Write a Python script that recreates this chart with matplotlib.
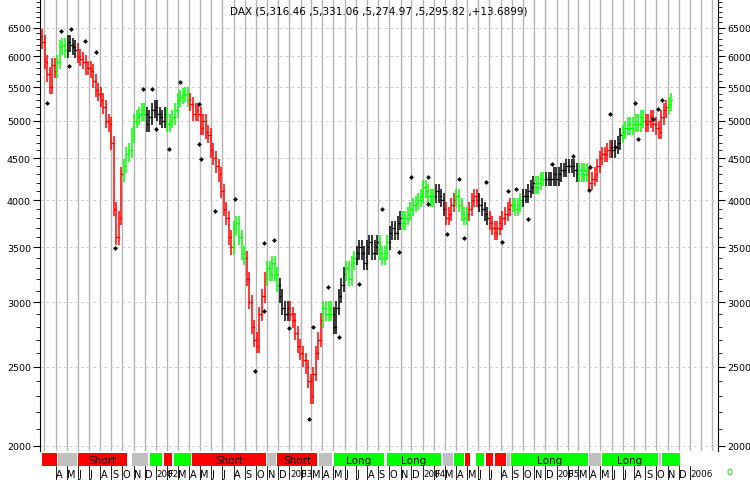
import matplotlib
matplotlib.use("Agg")
import matplotlib.pyplot as plt
import matplotlib.dates as mdates
from matplotlib.ticker import FixedLocator, NullFormatter
import datetime as dt
import numpy as np

closes = [6250,
 5900,5700,5500,5850, 5750,5900,6150,6200, 6100,6250,6200,6150,6100, 6000,5950,5900,5800,
 5800,5750,5600,5450, 5400,5300,5200,5000,4950, 4700,3900,3600,3800, 4300,4400,4550,4600,
 4800,5000,5050,5100,5150, 5100,4950,5050,5150,
 5200,5100,5050,5000,5100, 4950,5000,5050,5150, 5300,5350,5380,5400, 5300,5250,5100,5150,
 5100,4900,5000,4850,4800, 4600,4500,4400,4300, 4100,3900,3800,3600, 3500,3700,3750,3600,3450,
 3400,3200,3000,2800, 2700,2650,2900,3050, 3200,3300,3250,3350,3250, 3150,3050,2950,2900,
 2950,2900,2850,2750, 2650,2600,2550,2500, 2400,2300,2450,2600, 2700,2850,2950,2900,
 2950,2900,2800,2950,3050, 3150,3250,3300,3200, 3350,3400,3450,3500, 3450,3350,3500,3550,3450,
 3500,3550,3450,3400, 3450,3550,3650,3700,3650, 3750,3800,3750,3800, 3850,3900,3950,3970,
 4000,4050,4150,4100,4050, 4000,4050,4100,4050, 4000,3900,3800,3850, 3950,4000,4050,3950,
 3850,3800,3850,3900, 4000,4050,4000,3950, 3900,3850,3800,3750,3700, 3650,3700,3750,3800,
 3850,3900,3950,3950, 3900,3950,4000,4050,4050, 4100,4150,4200,4150, 4200,4250,4250,4250,4250,
 4250,4300,4250,4300, 4350,4350,4400,4400, 4400,4350,4300,4350,4300, 4350,4300,4200,4250,
 4300,4400,4500,4550, 4550,4600,4650,4600,4650, 4700,4800,4850,4900, 4950,4900,4950,5000,
 4950,5050,5000,4950,5000, 5050,4950,4900,4850, 5050,5150,5200,5250,5300]
first_open = 6350

# bar colour by month (R red, G green, K black)
month_colors = {
 (2001,2):'R',(2001,3):'R',(2001,4):'G',(2001,5):'K',(2001,6):'R',(2001,7):'R',(2001,8):'R',(2001,9):'R',
 (2001,10):'G',(2001,11):'G',(2001,12):'K',
 (2002,1):'K',(2002,2):'G',(2002,3):'G',(2002,4):'R',(2002,5):'R',(2002,6):'R',(2002,7):'R',(2002,8):'G',
 (2002,9):'R',(2002,10):'R',(2002,11):'G',(2002,12):'K',
 (2003,1):'R',(2003,2):'R',(2003,3):'R',(2003,4):'G',(2003,5):'K',(2003,6):'G',(2003,7):'K',(2003,8):'K',
 (2003,9):'G',(2003,10):'K',(2003,11):'G',(2003,12):'G',
 (2004,1):'G',(2004,2):'K',(2004,3):'R',(2004,4):'G',(2004,5):'R',(2004,6):'K',(2004,7):'R',(2004,8):'R',
 (2004,9):'G',(2004,10):'K',(2004,11):'G',(2004,12):'K',
 (2005,1):'K',(2005,2):'K',(2005,3):'G',(2005,4):'R',(2005,5):'R',(2005,6):'K',(2005,7):'G',(2005,8):'G',
 (2005,9):'R',(2005,10):'R',(2005,11):'G',(2005,12):'G'}
cmap = {'R':'#ff0000','G':'#00ff00','K':'#000000'}

dot_years = [2001.18,2001.29,2001.35,2001.36,2001.47,2001.55,2001.69,2001.90,2001.97,2002.00,2002.10,2002.18,
 2002.32,2002.32,2002.34,2002.44,2002.59,2002.74,2002.81,2002.88,2002.81,2003.00,2003.15,2003.18,2003.29,2003.37,
 2003.52,2003.69,2003.82,2003.91,2004.04,2004.04,2004.18,2004.27,2004.31,2004.47,2004.59,2004.64,2004.70,2004.79,
 2004.97,2005.12,2005.24,2005.25,2005.40,2005.44,2005.59,2005.61,2005.72,2005.76,2005.79]
dot_prices = [5260,6450,5840,6470,6270,6070,3490,5470,5470,4890,4620,5580,
 5250,4690,4490,3880,4010,2470,3540,3570,2930,2790,2160,2800,3130,2720,
 3160,3900,3460,4270,4270,3960,3640,4250,3590,4210,3550,4100,4130,3790,
 4430,4530,4110,4390,5100,4650,5260,4750,5030,5170,5300]

strip = [(2001.146,2001.257,'r',''),(2001.265,2001.407,'g',''),(2001.414,2001.780,'r','Short'),
 (2001.817,2001.937,'g',''),(2001.951,2002.041,'G',''),(2002.063,2002.123,'r',''),(2002.138,2002.265,'G',''),
 (2002.272,2002.825,'r','Short'),(2002.832,2002.899,'g',''),(2002.907,2003.205,'r','Short'),(2003.22,2003.317,'g',''),
 (2003.332,2003.705,'G','Long'),(2003.728,2004.138,'G','Long'),(2004.153,2004.228,'g',''),(2004.235,2004.31,'G',''),
 (2004.317,2004.354,'r',''),(2004.399,2004.459,'G',''),(2004.474,2004.526,'r',''),(2004.541,2004.623,'r',''),
 (2004.63,2004.653,'g',''),(2004.66,2005.235,'G','Long'),(2005.243,2005.332,'g',''),(2005.34,2005.757,'G','Long'),
 (2005.765,2005.78,'g',''),(2005.787,2005.922,'G','')]
scol = {'r':'#ff0000','g':'#c0c0c0','G':'#00ff00'}

def ydate(y):
    yr = int(y)
    return mdates.date2num(dt.datetime(yr,1,1) + dt.timedelta(days=(y-yr)*365.25))

W, H = 750, 481
fig = plt.figure(figsize=(W/100, H/100), dpi=100)
ax = fig.add_axes([40/W, 1-452/H, 678/W, 452/H])
x0 = ydate(2001.13); x1 = ydate(2006.21)

start = dt.datetime(2001,2,23)
dates = [start + dt.timedelta(weeks=i) for i in range(len(closes))]
opens = [first_open] + closes[:-1]
w = 2.5
for d, o, c in zip(dates, opens, closes):
    xd = mdates.date2num(d)
    hi = max(o, c) * 1.02; lo = min(o, c) * 0.98
    col = cmap[month_colors.get((d.year, d.month), 'K')]
    ax.plot([xd, xd], [lo, hi], color=col, lw=1.1, solid_capstyle='butt')
    ax.plot([xd - w, xd], [o, o], color=col, lw=0.9)
    ax.plot([xd, xd + w], [c, c], color=col, lw=0.9)

ax.scatter([ydate(y) for y in dot_years], dot_prices, marker='D', s=6, color='black', zorder=5, lw=0)

ax.set_yscale('log')
ax.set_ylim(1972, 7050)
ax.set_xlim(x0, x1)
yt = list(range(2000, 7000, 500))
ax.yaxis.set_major_locator(FixedLocator(yt))
ax.yaxis.set_minor_locator(FixedLocator(range(2000, 7100, 100)))
ax.yaxis.set_minor_formatter(NullFormatter())
ax.set_yticklabels([str(v) for v in yt])
ax.tick_params(axis='y', which='both', left=True, right=True, labelright=True, labelsize=6.8, direction='out', pad=1.5)
ax.tick_params(axis='y', which='minor', length=3)
ax.tick_params(axis='y', which='major', length=5)
months = [dt.datetime(y, m, 1) for y in range(2001, 2007) for m in range(1, 13)]
months = [m for m in months if x0 < mdates.date2num(m) < x1]
for m in months:
    ax.axvline(mdates.date2num(m), color='#b4b4b4', lw=1.0, zorder=0)
for v in yt:
    ax.axhline(v, color='#cccccc', lw=0.7, ls=(0, (3, 3)), zorder=0)
ax.set_xticks([])
for s in ['top', 'bottom']:
    ax.spines[s].set_visible(False)
ax.text(0.5, 0.985, 'DAX (5,316.46 ,5,331.06 ,5,274.97 ,5,295.82 ,+13.6899)', transform=ax.transAxes,
        ha='center', va='top', fontsize=7.5)

# signal strip
sx = fig.add_axes([40/W, 1-467/H, 678/W, 13/H])
sx.set_xlim(x0, x1); sx.set_ylim(0, 1); sx.axis('off')
for a, b, c, lab in strip:
    sx.axvspan(ydate(a), ydate(b), color=scol[c], lw=0)
    if lab:
        sx.text((ydate(a) + ydate(b)) / 2, 0.45, lab, ha='center', va='center', fontsize=7.5)

# month label row
mx = fig.add_axes([40/W, 1-481/H, 678/W, 14/H])
mx.set_xlim(x0, x1); mx.set_ylim(0, 1); mx.axis('off')
letters = 'JFMAMJJASOND'
for m in months:
    if m < dt.datetime(2001, 4, 1) or m > dt.datetime(2006, 1, 1):
        continue
    xm = mdates.date2num(m)
    mx.plot([xm, xm], [0, 1], color='black', lw=0.6)
    lab = str(m.year) if m.month == 1 else letters[m.month - 1]
    mx.text(xm + 1.5, 0.45, lab, ha='left', va='center', fontsize=7 if m.month != 1 else 6.3)
fig.text(729/W, 1-472/H, 'o', color='#00dd00', fontsize=7, ha='center', va='center')

fig.savefig('out.png', dpi=100)
